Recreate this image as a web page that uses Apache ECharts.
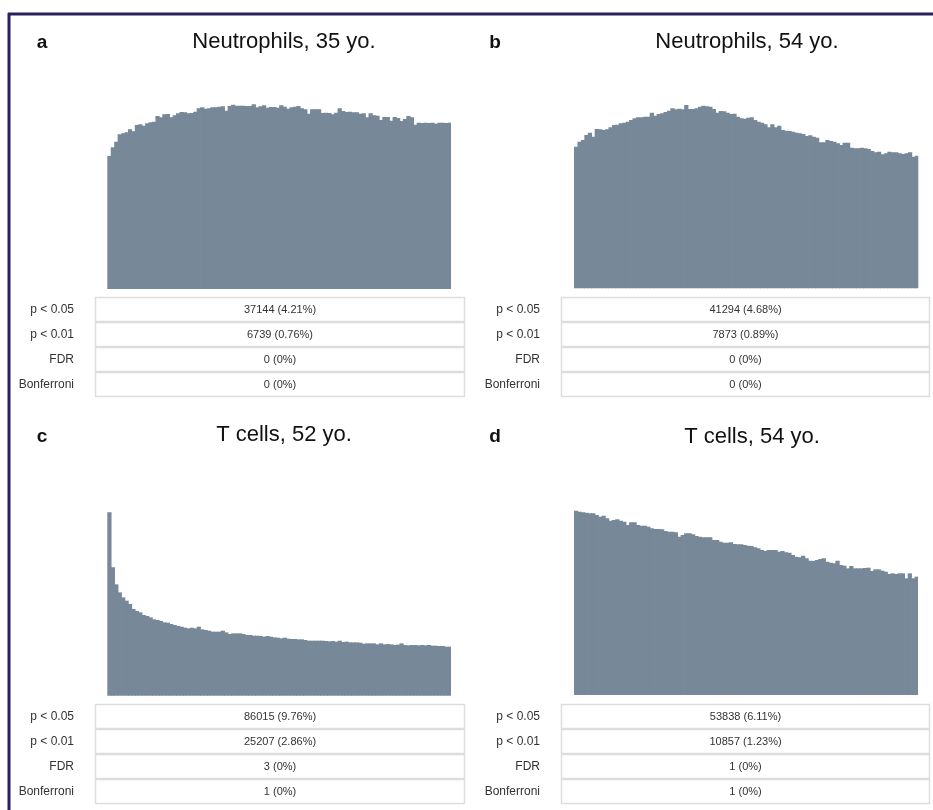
<!DOCTYPE html>
<html>
<head>
<meta charset="utf-8">
<script src="https://cdn.jsdelivr.net/npm/echarts@6/dist/echarts.min.js"></script>
<style>
html,body{margin:0;padding:0;background:#fff;}
#chart{width:933px;height:810px;}
</style>
</head>
<body>
<div id="chart"></div>
<script>
// ---- data (bar heights, relative units) ----
const panelTitles = ['Neutrophils, 35 yo.', 'Neutrophils, 54 yo.', 'T cells, 52 yo.', 'T cells, 54 yo.'];
const panelLetters = ['a', 'b', 'c', 'd'];
const rowLabels = ['p < 0.05', 'p < 0.01', 'FDR', 'Bonferroni'];
const tableA = ['37144 (4.21%)', '6739 (0.76%)', '0 (0%)', '0 (0%)'];
const tableB = ['41294 (4.68%)', '7873 (0.89%)', '0 (0%)', '0 (0%)'];
const tableC = ['86015 (9.76%)', '25207 (2.86%)', '3 (0%)', '1 (0%)'];
const tableD = ['53838 (6.11%)', '10857 (1.23%)', '1 (0%)', '1 (0%)'];

const histA = [399,425,442,464,467,470,479,473,492,494,490,497,500,502,519,515,524,525,515,521,
  527,531,530,527,528,532,542,545,541,542,545,545,547,548,535,549,553,550,550,550,
  549,549,554,545,548,551,544,546,546,544,551,547,541,545,547,549,542,539,526,539,
  539,539,528,529,528,524,529,542,534,531,532,530,530,526,527,515,527,521,520,507,
  516,516,505,516,513,504,510,519,515,493,499,498,499,498,499,496,499,499,498,499];
const histB = [425,440,445,460,467,455,478,477,475,477,483,490,491,495,497,500,505,510,513,513,
  515,515,527,518,523,525,529,533,540,537,539,537,550,538,538,540,545,548,546,545,
  538,527,532,531,527,523,524,515,510,509,512,513,505,500,497,492,483,492,483,488,
  475,473,472,470,467,465,463,457,459,455,452,438,438,445,442,440,435,430,437,437,
  422,420,420,422,420,418,412,408,410,402,405,410,408,408,405,403,405,408,395,398];
const histC = [550,385,334,310,295,285,275,260,254,250,242,239,235,229,227,224,220,219,215,212,
  209,207,204,202,204,202,207,199,197,195,192,192,192,195,190,185,187,187,187,185,
  182,182,180,180,179,177,179,177,175,174,172,174,171,170,170,169,169,167,165,165,
  165,165,165,164,163,164,162,165,161,162,160,160,160,159,156,157,157,157,154,157,
  154,155,154,152,153,157,152,151,152,152,151,152,151,152,150,150,149,149,147,147];
const histD = [553,550,548,547,545,545,540,535,538,530,523,525,527,523,520,510,518,518,510,508,
  508,505,500,498,498,497,492,490,490,488,475,480,485,485,482,477,475,473,473,473,
  465,465,460,457,457,458,453,452,452,450,448,447,443,440,435,432,435,435,435,430,
  432,428,427,420,415,413,418,410,403,402,405,408,410,400,397,395,403,390,388,380,
  387,380,380,380,381,382,372,377,377,373,370,363,365,363,365,365,350,365,350,355];
const histMax = [597, 595, 647, 645];

const hists = [histA, histB, histC, histD];
const tables = [tableA, tableB, tableC, tableD];

// ---- layout ----
const histGrids = [
  {left: 107.3, top: 90, width: 343.7, height: 199},
  {left: 574, top: 90, width: 344.3, height: 198.3},
  {left: 107.3, top: 480, width: 343.7, height: 215.7},
  {left: 574, top: 480, width: 344, height: 215}
];
const tableGrids = [
  {left: 95, top: 297, width: 370, height: 100},
  {left: 561, top: 297, width: 369, height: 100},
  {left: 95, top: 704, width: 370, height: 100},
  {left: 561, top: 704, width: 369, height: 100}
];
const titlePos = [[284, 42], [747, 42], [284, 435], [752, 437]];
const letterPos = [[42, 43], [495, 43], [42, 437], [495, 437]];

const FONT = '"Liberation Sans", Arial, Helvetica, sans-serif';
const BAR = '#778899';
const grid = [], xAxis = [], yAxis = [], series = [];

for (let k = 0; k < 4; k++) {
  const h = hists[k];
  const n = h.length;
  grid.push(histGrids[k]);
  xAxis.push({type: 'value', gridIndex: k, min: 0, max: n, show: false, splitLine: {show: false}});
  yAxis.push({type: 'value', gridIndex: k, min: 0, max: histMax[k], show: false, splitLine: {show: false}});
  series.push({
    type: 'custom', xAxisIndex: k, yAxisIndex: k, silent: true, animation: false,
    data: h.map((v, i) => [i, v]),
    encode: {x: 0, y: 1},
    renderItem: function (params, api) {
      const i = api.value(0);
      const top = api.coord([i, api.value(1)]);
      const base = api.coord([i + 1, 0]);
      const last = i === n - 1;
      return {
        type: 'rect',
        shape: {x: top[0], y: top[1], width: base[0] - top[0] + (last ? 0 : 0.8), height: base[1] - top[1]},
        style: {fill: BAR}
      };
    }
  });
}
for (let k = 0; k < 4; k++) {
  const gi = 4 + k;
  grid.push(tableGrids[k]);
  xAxis.push({type: 'value', gridIndex: gi, min: 0, max: 1, show: false, splitLine: {show: false}});
  yAxis.push({
    type: 'category', gridIndex: gi, data: rowLabels, inverse: true,
    axisLine: {show: false}, axisTick: {show: false}, splitLine: {show: false},
    axisLabel: {color: '#333', fontSize: 12, fontFamily: FONT, margin: 21}
  });
  const tbl = tables[k];
  series.push({
    type: 'custom', xAxisIndex: gi, yAxisIndex: gi, silent: true, animation: false,
    data: rowLabels.map((l, i) => [0.5, i]),
    encode: {x: 0, y: 1},
    renderItem: function (params, api) {
      const c = api.coord([0.5, api.value(1)]);
      const band = api.size([0, 1])[1];
      const cs = params.coordSys;
      return {
        type: 'group',
        children: [
          {type: 'rect', shape: {x: cs.x + 0.5, y: c[1] - band / 2 + 0.5, width: cs.width - 1, height: band - 1},
           style: {fill: '#fff', stroke: '#dddddd', lineWidth: 1.5}},
          {type: 'text', x: c[0], y: c[1],
           style: {text: tbl[params.dataIndex], fill: '#333', font: '11px ' + FONT, align: 'center', verticalAlign: 'middle'}}
        ]
      };
    }
  });
}

const graphic = [
  {type: 'line', shape: {x1: 8, y1: 14, x2: 933, y2: 14}, style: {stroke: '#2a2060', lineWidth: 3}},
  {type: 'line', shape: {x1: 9, y1: 13, x2: 9, y2: 810}, style: {stroke: '#2a2060', lineWidth: 3}}
];
for (let k = 0; k < 4; k++) {
  graphic.push({type: 'text', x: titlePos[k][0], y: titlePos[k][1],
    style: {text: panelTitles[k], fill: '#111', font: '22px ' + FONT, align: 'center', verticalAlign: 'middle'}});
  graphic.push({type: 'text', x: letterPos[k][0], y: letterPos[k][1],
    style: {text: panelLetters[k], fill: '#111', font: 'bold 19px ' + FONT, align: 'center', verticalAlign: 'middle'}});
}

const chart = echarts.init(document.getElementById('chart'), null, {renderer: 'canvas', width: 933, height: 810});
chart.setOption({animation: false, backgroundColor: '#fff', grid, xAxis, yAxis, series, graphic});
</script>
</body>
</html>
